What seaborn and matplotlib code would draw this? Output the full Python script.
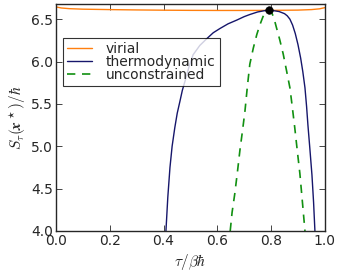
import numpy as np
import pandas as pd
import seaborn as sns
import matplotlib.pyplot as plt

# values
virial_x = [0.0, 0.02, 0.05, 0.1, 0.2, 0.3, 0.4, 0.5, 0.6, 0.7, 0.8, 0.9, 0.95, 0.98, 1.0]
virial_y = [6.645, 6.632, 6.624, 6.618, 6.613, 6.609, 6.606, 6.604, 6.603, 6.603, 6.604, 6.607, 6.613, 6.622, 6.636]

thermo_x = [0.409, 0.416, 0.424, 0.432, 0.442, 0.451, 0.461, 0.47, 0.48, 0.495, 0.51, 0.535, 0.561,
            0.585, 0.61, 0.64, 0.673, 0.7, 0.721, 0.75, 0.775, 0.791, 0.81, 0.83, 0.85, 0.86,
            0.87, 0.88, 0.89, 0.9, 0.91, 0.918, 0.926, 0.932, 0.937, 0.944, 0.952, 0.958, 0.963]
thermo_y = [4.0, 4.4, 4.75, 5.0, 5.22, 5.39, 5.53, 5.66, 5.77, 5.94, 6.08, 6.19, 6.27,
            6.34, 6.39, 6.445, 6.49, 6.53, 6.555, 6.585, 6.6, 6.605, 6.6, 6.59, 6.565, 6.54,
            6.5, 6.43, 6.33, 6.2, 6.04, 5.88, 5.69, 5.47, 5.25, 4.98, 4.66, 4.34, 4.0]

uncon_x = [0.648, 0.655, 0.665, 0.675, 0.684, 0.694, 0.703, 0.712, 0.721, 0.734, 0.747, 0.758,
           0.77, 0.781, 0.791, 0.801, 0.81, 0.82, 0.832, 0.845, 0.857, 0.87, 0.879, 0.888, 0.897,
           0.907, 0.916, 0.926]
uncon_y = [4.0, 4.22, 4.44, 4.7, 4.95, 5.19, 5.42, 5.71, 5.97, 6.16, 6.32, 6.43,
           6.53, 6.585, 6.605, 6.585, 6.52, 6.40, 6.26, 6.09, 5.9, 5.69, 5.46, 5.22, 4.96,
           4.68, 4.36, 4.0]

peak_x = [0.791]
peak_y = [6.605]

sns.set_style("ticks")
plt.rcParams["xtick.direction"] = "in"
plt.rcParams["ytick.direction"] = "in"
plt.rcParams["font.family"] = ["DejaVu Sans"]
plt.rcParams["mathtext.fontset"] = "cm"

fig = plt.figure(figsize=(3.37, 2.8), dpi=100)
ax = fig.add_axes([0.166, 0.175, 0.798, 0.811])

sns.lineplot(x=virial_x, y=virial_y, ax=ax, color="#ff7f0e", lw=1.0, label="virial")
sns.lineplot(x=thermo_x, y=thermo_y, ax=ax, color="#16166b", lw=1.0, label="thermodynamic")
sns.lineplot(x=uncon_x, y=uncon_y, ax=ax, color="#119011", lw=1.2, label="unconstrained",
             linestyle=(0, (5, 4)))
sns.scatterplot(x=peak_x, y=peak_y, ax=ax, color="black", s=30, zorder=5, edgecolor="black")

ax.set_xlim(0, 1)
ax.set_ylim(4.0, 6.68)
ax.set_xticks([0.0, 0.2, 0.4, 0.6, 0.8, 1.0])
ax.set_yticks([4.0, 4.5, 5.0, 5.5, 6.0, 6.5])
ax.tick_params(top=True, right=True, labelsize=10, length=4, width=0.6, pad=2)
for s in ax.spines.values():
    s.set_linewidth(1.0)

ax.set_xlabel(r"$\tau/\beta\hbar$", fontsize=11, labelpad=3)
ax.set_ylabel(r"$S_\tau(\boldsymbol{x}^\star)/\hbar$", fontsize=11, labelpad=2)

leg = ax.legend(loc="upper left", bbox_to_anchor=(0.026, 0.852), fontsize=10, frameon=True,
                fancybox=False, edgecolor="black", borderaxespad=0, handlelength=1.8,
                handletextpad=1.0, labelspacing=-0.05, borderpad=0.3)
leg.get_frame().set_linewidth(0.8)

fig.savefig("out.png", dpi=100)
